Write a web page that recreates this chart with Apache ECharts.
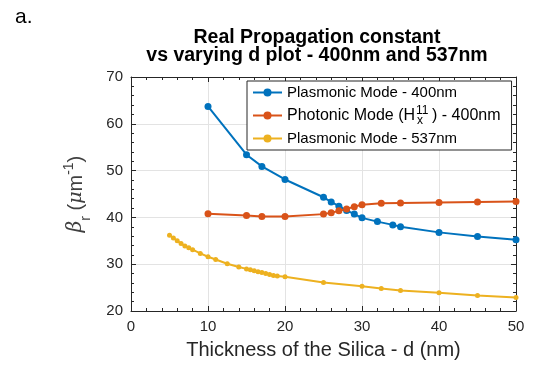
<!DOCTYPE html>
<html>
<head>
<meta charset="utf-8">
<script src="https://cdn.jsdelivr.net/npm/echarts@6/dist/echarts.min.js"></script>
<style>
  html, body { margin: 0; padding: 0; background: #fff; }
  #chart { width: 533px; height: 365px; }
</style>
</head>
<body>
<div id="chart"></div>
<script>
// plasmonic mode, 400nm
var dBlue = [10, 15, 17, 20, 25, 26, 27, 28, 29, 30, 32, 34, 35, 40, 45, 50]
var betaBlue = [63.7, 53.4, 50.9, 48.1, 44.3, 43.3, 42.4, 41.5, 40.7, 39.9, 39.1, 38.4, 38.0, 36.8, 35.9, 35.2]
// photonic mode, 400nm
var dOrange = [10, 15, 17, 20, 25, 26, 27, 28, 29, 30, 32.5, 35, 40, 45, 50]
var betaOrange = [40.8, 40.4, 40.2, 40.2, 40.7, 41.0, 41.4, 41.8, 42.3, 42.7, 43.0, 43.1, 43.2, 43.3, 43.4]
// plasmonic mode, 537nm
var dYellow = [5, 5.5, 6, 6.5, 7, 7.5, 8, 9, 10, 11, 12.5, 14, 15, 15.5, 16, 16.5, 17, 17.5, 18, 18.5, 19, 20, 25, 30, 32.5, 35, 40, 45, 50]
var betaYellow = [36.2, 35.6, 35.0, 34.4, 33.9, 33.5, 33.1, 32.3, 31.6, 31.0, 30.1, 29.4, 29.0, 28.8, 28.6, 28.4, 28.2, 28.0, 27.8, 27.6, 27.5, 27.3, 26.1, 25.3, 24.8, 24.4, 23.9, 23.3, 22.9]

var seriesNames = ['Plasmonic Mode - 400nm', 'Photonic Mode (Hx11) - 400nm', 'Plasmonic Mode - 537nm']
var xTicks = [0, 10, 20, 30, 40, 50]
var yTicks = [20, 30, 40, 50, 60, 70]

var font = 'Liberation Sans, Arial, sans-serif'
var axisColor = '#262626'

function zip(xs, ys) {
  return xs.map(function (x, i) { return [x, ys[i]] })
}

function makeSeries(name, xs, ys, color, size) {
  return {
    name: name,
    type: 'line',
    data: zip(xs, ys),
    symbol: 'circle',
    symbolSize: size,
    showSymbol: true,
    lineStyle: { color: color, width: 2 },
    itemStyle: { color: color },
    emphasis: { disabled: true },
    z: 3
  }
}

var myChart = echarts.init(document.getElementById('chart'), null, { renderer: 'canvas' })

var baseX = {
  type: 'value',
  min: xTicks[0],
  max: xTicks[xTicks.length - 1],
  interval: 10,
  axisLine: { show: true, onZero: false, lineStyle: { color: axisColor, width: 1 } },
  axisTick: { show: true, inside: true, length: 5, lineStyle: { color: axisColor } },
  minorTick: { show: true, splitNumber: 5, length: 3, lineStyle: { color: axisColor } }
}
var baseY = {
  type: 'value',
  min: yTicks[0],
  max: yTicks[yTicks.length - 1],
  interval: 10,
  axisLine: { show: true, onZero: false, lineStyle: { color: axisColor, width: 1 } },
  axisTick: { show: true, inside: true, length: 5, lineStyle: { color: axisColor } },
  minorTick: { show: true, splitNumber: 5, length: 3, lineStyle: { color: axisColor } }
}

var option = {
  animation: false,
  backgroundColor: '#fff',
  textStyle: { fontFamily: font },
  title: [
    {
      text: 'a.',
      left: 15,
      top: 7,
      padding: 0,
      textStyle: { fontFamily: font, fontSize: 21, fontWeight: 'normal', color: '#000' }
    },
    {
      text: 'Real Propagation constant\nvs varying d plot - 400nm and 537nm',
      left: 317,
      top: 28.5,
      padding: 0,
      textAlign: 'center',
      textStyle: { fontFamily: font, fontSize: 19.5, fontWeight: 'bold', color: '#000', lineHeight: 18 }
    }
  ],
  grid: { left: 131, right: 17, top: 77, bottom: 51, containLabel: false },
  legend: {
    orient: 'vertical',
    left: 247,
    top: 81,
    padding: [0, 11, 0, 5],
    itemGap: 0,
    itemWidth: 29,
    itemHeight: 10,
    backgroundColor: '#fff',
    borderColor: axisColor,
    borderWidth: 1,
    borderRadius: 0,
    data: seriesNames,
    formatter: function (name) {
      if (name === seriesNames[1]) {
        return '{t|Photonic Mode (H}{sup|11}{sub|x}{t|) - 400nm}'
      }
      return name
    },
    textStyle: {
      fontFamily: font,
      fontSize: 15,
      color: '#000',
      lineHeight: 23,
      rich: {
        t: { fontFamily: font, fontSize: 16, color: '#000', lineHeight: 23 },
        sup: { fontFamily: font, fontSize: 12, color: '#000', verticalAlign: 'top', lineHeight: 12, width: 0, padding: [1, 0, 0, 1] },
        sub: { fontFamily: font, fontSize: 12, color: '#000', verticalAlign: 'bottom', lineHeight: 10, width: 15, padding: [0, 0, 0, 1] }
      }
    }
  },
  xAxis: [
    Object.assign({}, baseX, {
      position: 'bottom',
      name: 'Thickness of the Silica - d (nm)',
      nameLocation: 'middle',
      nameGap: 29,
      nameTextStyle: { fontFamily: font, fontSize: 20, color: axisColor },
      axisLabel: { show: true, margin: 8, fontFamily: font, fontSize: 15, color: axisColor },
      splitLine: { show: true, lineStyle: { color: '#e3e3e3', width: 1 } }
    }),
    Object.assign({}, baseX, {
      position: 'top',
      axisLabel: { show: false },
      splitLine: { show: false }
    })
  ],
  yAxis: [
    Object.assign({}, baseY, {
      position: 'left',
      name: '{b|β}{s|r} ({m|μ}m{p|-1})',
      nameLocation: 'middle',
      nameGap: 38,
      nameRotate: 90,
      nameTextStyle: {
        fontFamily: font,
        fontSize: 20,
        color: '#404040',
        lineHeight: 34,
        rich: {
          b: { fontFamily: 'DejaVu Serif', fontStyle: 'italic', fontSize: 20, color: '#404040', lineHeight: 34 },
          s: { fontFamily: font, fontSize: 14, color: '#404040', verticalAlign: 'bottom', lineHeight: 14 },
          m: { fontFamily: 'DejaVu Serif', fontStyle: 'italic', fontSize: 19, color: '#404040', lineHeight: 34 },
          p: { fontFamily: font, fontSize: 14, color: '#404040', verticalAlign: 'top', lineHeight: 14, padding: [3, 0, 0, 0] }
        }
      },
      axisLabel: { show: true, margin: 8, fontFamily: font, fontSize: 15, color: axisColor },
      splitLine: { show: true, lineStyle: { color: '#e3e3e3', width: 1 } }
    }),
    Object.assign({}, baseY, {
      position: 'right',
      axisLabel: { show: false },
      splitLine: { show: false }
    })
  ],
  series: [
    makeSeries(seriesNames[0], dBlue, betaBlue, '#0072BD', 7),
    makeSeries(seriesNames[1], dOrange, betaOrange, '#D95319', 7),
    makeSeries(seriesNames[2], dYellow, betaYellow, '#EDB120', 5)
  ]
}

myChart.setOption(option)
window.addEventListener('resize', function () {
  myChart.resize()
})
</script>
</body>
</html>
